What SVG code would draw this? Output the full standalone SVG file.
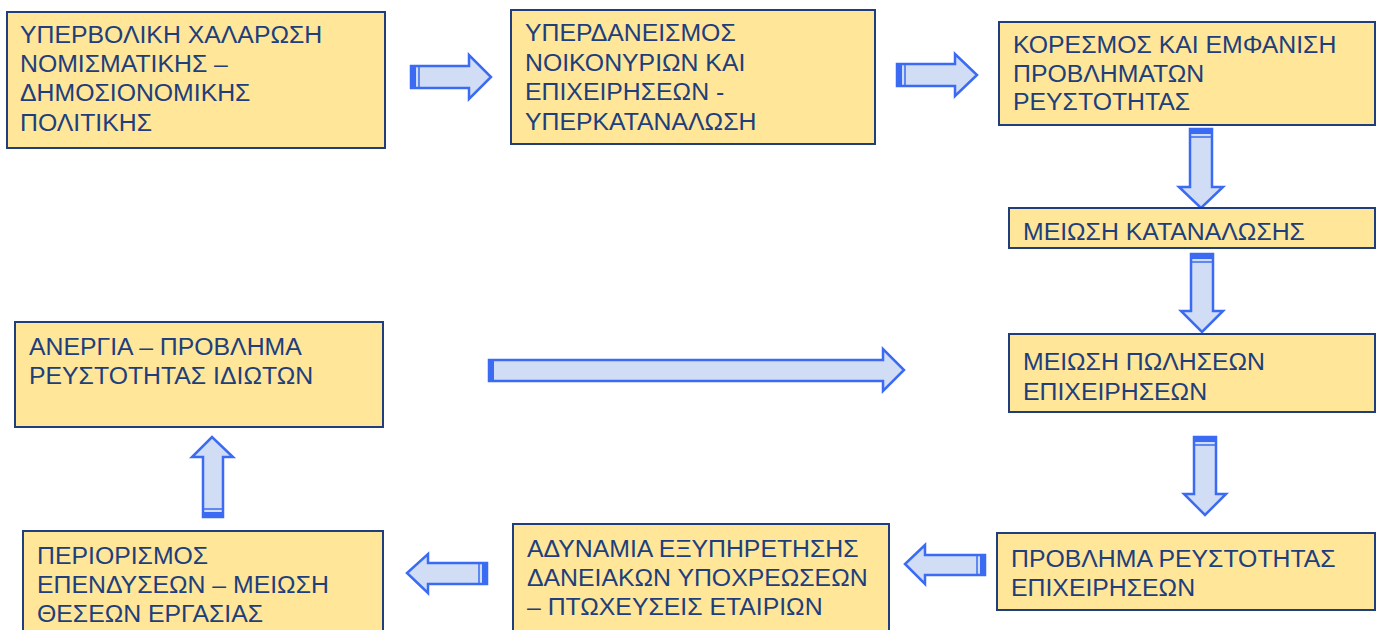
<svg xmlns="http://www.w3.org/2000/svg" width="1385" height="630" viewBox="0 0 1385 630">
  <defs>
    <style>
      .box { fill: #FFE699; stroke: #203E7C; stroke-width: 2; }
      .lbl { font-family: "Liberation Sans", Arial, sans-serif; font-size: 24.8px; fill: #203E7C; }
      .arr { fill: #D0DDF5; stroke: #3B6BF2; stroke-width: 2.5; stroke-linejoin: miter; }
      .band { fill: #3B6BF2; }
      .bline { stroke: #3B6BF2; stroke-width: 1.5; }
    </style>
  </defs>
  <rect width="1385" height="630" fill="#ffffff"/>

  <!-- connectors: block arrows -->
  <g id="connectors">
    <!-- top row, rightward -->
    <path class="arr" d="M411,66 H469 V55 L491,77 L469,99 V88 H411 Z"/>
    <rect class="band" x="411" y="66" width="5" height="22"/>
    <line class="bline" x1="419" y1="66" x2="419" y2="88"/>

    <path class="arr" d="M897,64 H955 V54 L977,75 L955,96 V86 H897 Z"/>
    <rect class="band" x="897" y="64" width="5" height="22"/>
    <line class="bline" x1="905" y1="64" x2="905" y2="86"/>

    <!-- right column, downward -->
    <path class="arr" d="M1190,129 V187 H1179 L1201,208 L1223,187 H1212 V129 Z"/>
    <rect class="band" x="1190" y="129" width="22" height="5"/>
    <line class="bline" x1="1190" y1="137" x2="1212" y2="137"/>

    <path class="arr" d="M1191,254 V311 H1181 L1202,332 L1223,311 H1213 V254 Z"/>
    <rect class="band" x="1191" y="254" width="22" height="5"/>
    <line class="bline" x1="1191" y1="262" x2="1213" y2="262"/>

    <path class="arr" d="M1194,437 V494 H1184 L1205,515 L1226,494 H1216 V437 Z"/>
    <rect class="band" x="1194" y="437" width="22" height="5"/>
    <line class="bline" x1="1194" y1="445" x2="1216" y2="445"/>

    <!-- long middle arrow -->
    <path class="arr" d="M489,360 H883 V349 L904,370 L883,391 V381 H489 Z"/>
    <rect class="band" x="489" y="360" width="5" height="21"/>

    <!-- bottom row, leftward -->
    <path class="arr" d="M985,555 H925 V545 L905,564 L925,584 V575 H985 Z"/>
    <rect class="band" x="980" y="555" width="5" height="20"/>
    <line class="bline" x1="977" y1="555" x2="977" y2="575"/>

    <path class="arr" d="M487,563 H428 V554 L407,573 L428,593 V584 H487 Z"/>
    <rect class="band" x="482" y="563" width="5" height="21"/>
    <line class="bline" x1="479" y1="563" x2="479" y2="584"/>

    <!-- left column, upward -->
    <path class="arr" d="M203,517 V457 H192 L212,437 L233,457 H223 V517 Z"/>
    <rect class="band" x="203" y="512" width="20" height="5"/>
    <line class="bline" x1="203" y1="509" x2="223" y2="509"/>
  </g>

  <g id="n1">
    <rect class="box" x="7" y="12" width="378" height="136"/>
    <text class="lbl" x="20" y="43">ΥΠΕΡΒΟΛΙΚΗ ΧΑΛΑΡΩΣΗ</text>
    <text class="lbl" x="20" y="72">ΝΟΜΙΣΜΑΤΙΚΗΣ –</text>
    <text class="lbl" x="20" y="101">ΔΗΜΟΣΙΟΝΟΜΙΚΗΣ</text>
    <text class="lbl" x="20" y="131">ΠΟΛΙΤΙΚΗΣ</text>
  </g>

  <g id="n2">
    <rect class="box" x="511" y="10" width="364" height="134"/>
    <text class="lbl" x="525" y="41">ΥΠΕΡΔΑΝΕΙΣΜΟΣ</text>
    <text class="lbl" x="525" y="71">ΝΟΙΚΟΝΥΡΙΩΝ ΚΑΙ</text>
    <text class="lbl" x="525" y="100">ΕΠΙΧΕΙΡΗΣΕΩΝ -</text>
    <text class="lbl" x="525" y="130">ΥΠΕΡΚΑΤΑΝΑΛΩΣΗ</text>
  </g>

  <g id="n3">
    <rect class="box" x="999" y="22" width="376" height="103"/>
    <text class="lbl" x="1013" y="53">ΚΟΡΕΣΜΟΣ ΚΑΙ ΕΜΦΑΝΙΣΗ</text>
    <text class="lbl" x="1013" y="82">ΠΡΟΒΛΗΜΑΤΩΝ</text>
    <text class="lbl" x="1013" y="110">ΡΕΥΣΤΟΤΗΤΑΣ</text>
  </g>

  <g id="n4">
    <rect class="box" x="1009" y="208" width="366" height="40"/>
    <text class="lbl" x="1023" y="240">ΜΕΙΩΣΗ ΚΑΤΑΝΑΛΩΣΗΣ</text>
  </g>

  <g id="n5">
    <rect class="box" x="1009" y="334" width="366" height="78"/>
    <text class="lbl" x="1023" y="370">ΜΕΙΩΣΗ ΠΩΛΗΣΕΩΝ</text>
    <text class="lbl" x="1023" y="400">ΕΠΙΧΕΙΡΗΣΕΩΝ</text>
  </g>

  <g id="n6">
    <rect class="box" x="15" y="322" width="368" height="105"/>
    <text class="lbl" x="29" y="355">ΑΝΕΡΓΙΑ – ΠΡΟΒΛΗΜΑ</text>
    <text class="lbl" x="29" y="384">ΡΕΥΣΤΟΤΗΤΑΣ ΙΔΙΩΤΩΝ</text>
  </g>

  <g id="n7">
    <rect class="box" x="997" y="533" width="378" height="77"/>
    <text class="lbl" x="1011" y="567">ΠΡΟΒΛΗΜΑ ΡΕΥΣΤΟΤΗΤΑΣ</text>
    <text class="lbl" x="1011" y="596">ΕΠΙΧΕΙΡΗΣΕΩΝ</text>
  </g>

  <g id="n8">
    <rect class="box" x="513" y="524" width="376" height="110"/>
    <text class="lbl" x="527" y="557">ΑΔΥΝΑΜΙΑ ΕΞΥΠΗΡΕΤΗΣΗΣ</text>
    <text class="lbl" x="527" y="586">ΔΑΝΕΙΑΚΩΝ ΥΠΟΧΡΕΩΣΕΩΝ</text>
    <text class="lbl" x="527" y="615">– ΠΤΩΧΕΥΣΕΙΣ ΕΤΑΙΡΙΩΝ</text>
  </g>

  <g id="n9">
    <rect class="box" x="23" y="531" width="360" height="103"/>
    <text class="lbl" x="37" y="564">ΠΕΡΙΟΡΙΣΜΟΣ</text>
    <text class="lbl" x="37" y="593">ΕΠΕΝΔΥΣΕΩΝ – ΜΕΙΩΣΗ</text>
    <text class="lbl" x="37" y="622">ΘΕΣΕΩΝ ΕΡΓΑΣΙΑΣ</text>
  </g>
</svg>
